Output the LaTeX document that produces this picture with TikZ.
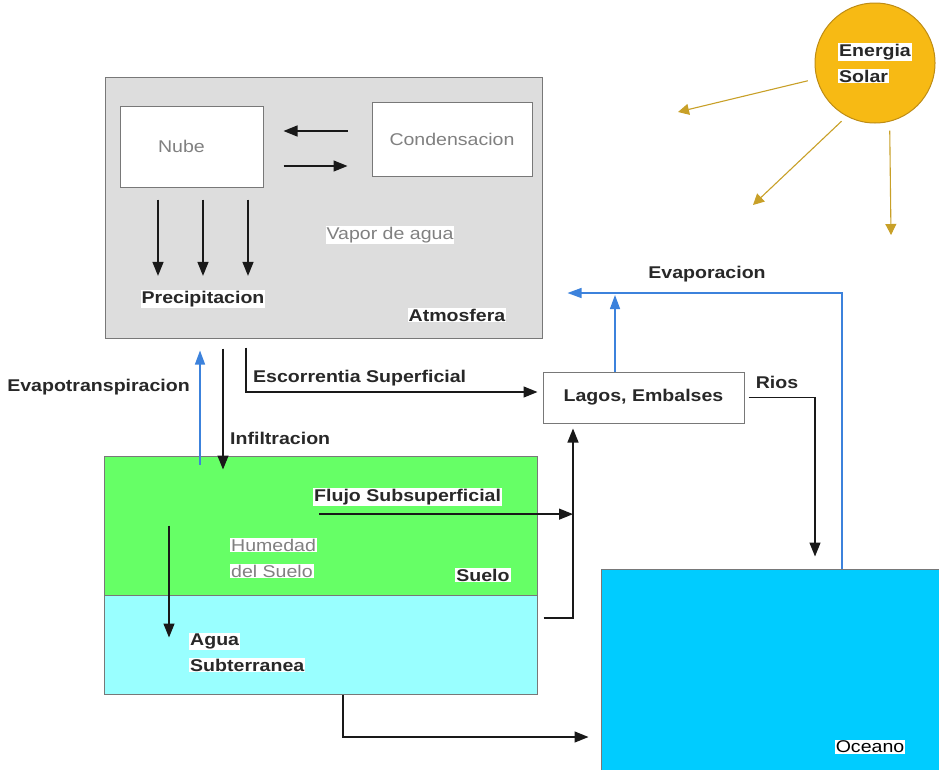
\documentclass[tikz,border=0pt]{standalone}
\usepackage{fontspec}
\setmainfont{Liberation Sans}[FakeStretch=1.15]
\usetikzlibrary{arrows.meta,positioning,calc}
\definecolor{atmosgray}{RGB}{221,221,221}
\definecolor{edgegray}{RGB}{120,120,120}
\definecolor{soilgreen}{RGB}{102,255,102}
\definecolor{groundcyan}{RGB}{153,255,255}
\definecolor{oceanblue}{RGB}{0,204,255}
\definecolor{sunyellow}{RGB}{247,186,20}
\definecolor{sunedge}{RGB}{190,140,20}
\definecolor{raygold}{RGB}{200,160,40}
\definecolor{flowblue}{RGB}{60,130,220}
\definecolor{textgray}{RGB}{128,128,128}
\definecolor{labeldark}{RGB}{40,40,40}
\newcommand{\wbox}[1]{{\setlength{\fboxsep}{1pt}\colorbox{white}{#1}}}

\begin{document}
\begin{tikzpicture}[
  x=1pt,y=-1pt,
  font=\fontsize{17}{26}\selectfont,
  box/.style={draw=edgegray,line width=1pt,inner sep=0pt},
  lbl/.style={font=\fontsize{17}{26}\selectfont\bfseries,text=labeldark,fill=white,inner sep=1pt,align=left},
  soft/.style={text=textgray,inner sep=1pt,align=left},
  arr/.style={-{Triangle[length=14pt,width=11pt]},line width=1.3pt,draw=black!90},
  barr/.style={-{Triangle[length=14pt,width=10pt]},line width=1.3pt,draw=flowblue},
  sunarr/.style={-{Triangle[length=11pt,width=11pt]},line width=1.1pt,draw=raygold},
]
\useasboundingbox (0,0) rectangle (939,769);
\clip (0,0) rectangle (939,769);
% ----- atmosphere
\node[box,fill=atmosgray,minimum width=437pt,minimum height=261pt] (atmos) at (323.5,207.5) {};
\node[box,fill=white,minimum width=143pt,minimum height=81pt,text=textgray] (nube) at (191.5,146.5) {Nube\hspace*{20pt}};
\node[box,fill=white,minimum width=160pt,minimum height=74pt,text=textgray] (cond) at (452,139) {Condensacion};
\node[soft,fill=white] (vapor) at (390,235) {Vapor de agua};
\node[lbl] (precip) at (203,299) {Precipitacion};
\node[lbl] (atmlbl) at (457,315) {Atmosfera};
\draw[arr,shorten <=24pt,shorten >=20pt] ([yshift=8pt]cond.west) -- ([yshift=8pt]cond.west -| nube.east);
\draw[arr,shorten <=20pt,shorten >=24pt] ([yshift=-19.5pt]nube.east) -- ([yshift=-19.5pt]nube.east -| cond.west);
\foreach \dx in {-33.5,11.5,56.5}
  \draw[arr,shorten <=12pt,shorten >=14pt] ([xshift=\dx pt]nube.south) -- ([xshift=\dx pt]nube.south |- precip.north);
% ----- sun
\node[circle,draw=sunedge,line width=1pt,fill=sunyellow,minimum size=120pt,inner sep=0pt,
      align=left,font=\fontsize{17}{26}\selectfont\bfseries,text=labeldark] (sol) at (875,63)
  {\wbox{Energia}\\\wbox{Solar}};
\coordinate (ray1) at (678,112);
\coordinate (ray2) at (753,205);
\coordinate (ray3) at (891,235);
\draw[sunarr,shorten <=9pt] (sol.195) -- (ray1);
\draw[sunarr,shorten <=7pt] (sol.242) -- (ray2);
\draw[sunarr,shorten <=9pt] (sol.-76) -- (ray3);
% ----- land and water
\node[box,fill=soilgreen,minimum width=433pt,minimum height=139pt] (suelo) at (320.5,525.5) {};
\node[box,fill=groundcyan,minimum width=433pt,minimum height=99pt] (subt) at (320.5,644.5) {};
\node[box,fill=oceanblue,minimum width=344pt,minimum height=206pt] (oceano) at (773,672) {};
\node[box,fill=white,minimum width=201pt,minimum height=51pt,
      font=\fontsize{17}{26}\selectfont\bfseries,text=labeldark] (lagos) at (643.5,397.5) {Lagos, Embalses};
\node[lbl,anchor=west] (flujo) at (313,497) {Flujo Subsuperficial};
\node[soft,anchor=west] (humedad) at (229,558) {\wbox{Humedad}\\\wbox{del Suelo}};
\node[lbl] (suelolbl) at (483,575) {Suelo};
\node[lbl,fill=none,anchor=west] (agua) at (188,652.5) {\wbox{Agua}\\\wbox{Subterranea}};
\node[fill=white,inner sep=1pt,text=black] (ocelbl) at (870,747) {Oceano};
% ----- flow labels
\node[lbl,anchor=east] (evtlbl) at (191,387) {Evapotranspiracion};
\node[lbl,anchor=west] (inflbl) at (229,438) {Infiltracion};
\node[lbl,anchor=west] (esclbl) at (252,378) {Escorrentia Superficial};
\node[lbl] (evaplbl) at (707,274) {Evaporacion};
\node[lbl] (rios) at (777,382) {Rios};
% ----- flows
\coordinate (riser) at (573,618);
\coordinate (evapline) at (842,293);
\draw[barr,shorten >=12pt] ([xshift=-120.5pt,yshift=-9pt]suelo.north) -- ([xshift=-120.5pt]suelo.north |- atmos.south);
\draw[arr,shorten <=10pt] ([xshift=-100.5pt]atmos.south) -- ([xshift=-97.5pt,yshift=-14pt]suelo.north);
\draw[arr,shorten <=9pt,shorten >=5pt] ([xshift=-77.5pt]atmos.south) |- ([yshift=5.5pt]lagos.west);
\draw[arr] ([xshift=-151.5pt]suelo.center) -- ++(0,112);
\draw[arr] ([xshift=6pt,yshift=-8pt]flujo.south west) -- ([yshift=-8pt]flujo.south west -| riser);
\draw[arr,shorten >=5pt] ([xshift=6pt,yshift=26.5pt]subt.east) -| (riser |- lagos.south);
\draw[arr,shorten >=12pt] ([xshift=22.5pt]subt.south) |- ([yshift=-65pt]oceano.west);
\draw[arr,shorten >=12pt] ([xshift=4pt]lagos.east) -| ([xshift=42pt]oceano.north);
\draw[barr,shorten >=25pt] ([xshift=69pt]oceano.north) -- (evapline) -- (evapline -| atmos.east);
\draw[barr,shorten >=2pt] ([xshift=-28.5pt]lagos.north) -- ([xshift=-28.5pt]lagos.north |- evapline);
\end{tikzpicture}
\end{document}
